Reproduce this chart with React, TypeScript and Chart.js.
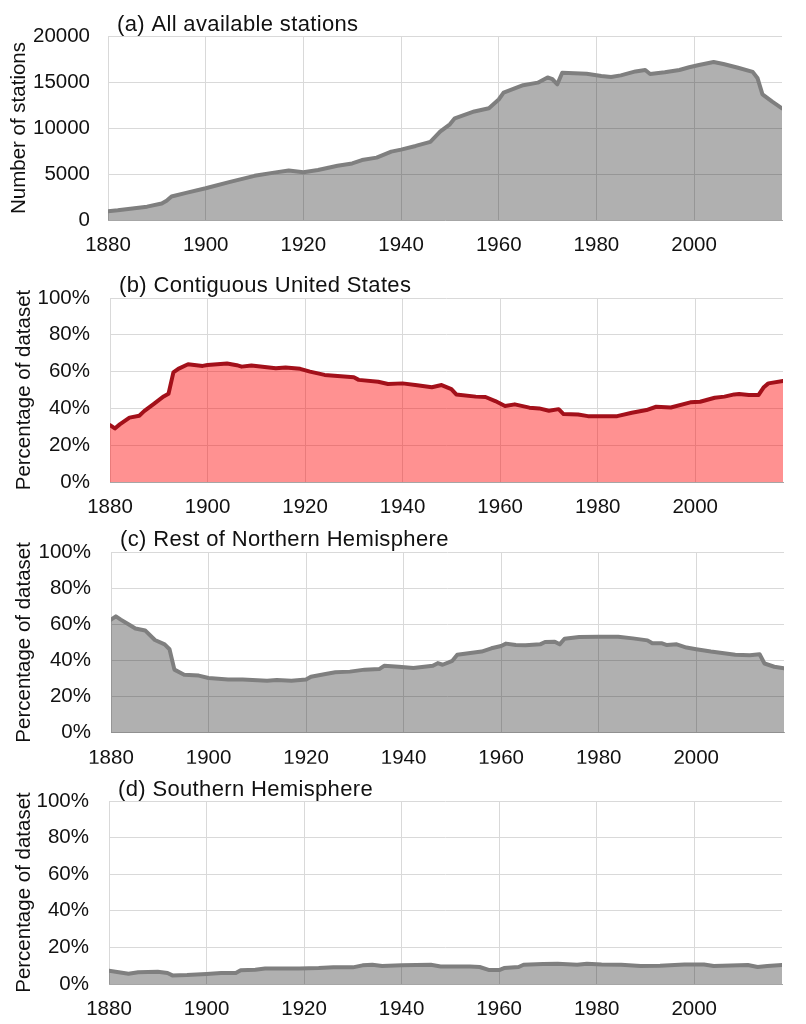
import React, { useEffect, useRef } from "react";
import { Chart, registerables } from "chart.js";

Chart.register(...registerables);

const FONT = '"Liberation Sans", Arial, sans-serif';

// ---- axis ticks ----
const X_TICKS = [1880, 1900, 1920, 1940, 1960, 1980, 2000];
const X_MIN = 1880;
const X_MAX = 2018;
const COUNT_TICKS = [0, 5000, 10000, 15000, 20000];
const PCT_TICKS = [0, 20, 40, 60, 80, 100];

// ---- (a) All available stations ----
const A_YEARS = [
  1880, 1882, 1885, 1888, 1891, 1892, 1893, 1896, 1900, 1905, 1910, 1914, 1917, 1920, 1923, 1927,
  1930, 1932, 1935, 1938, 1940, 1943, 1946, 1948, 1950, 1951, 1955, 1958, 1960, 1961, 1965, 1968,
  1970, 1971, 1972, 1973, 1978, 1981, 1983, 1985, 1988, 1990, 1991, 1994, 1997, 1999, 2001, 2004,
  2006, 2009, 2012, 2013, 2014, 2016, 2018,
];
const A_STATIONS = [
  950, 1050, 1250, 1450, 1800, 2100, 2550, 2950, 3450, 4150, 4800, 5150, 5380, 5200, 5430, 5900,
  6150, 6520, 6780, 7430, 7650, 8050, 8500, 9600, 10400, 11050, 11800, 12150, 13100, 13850, 14650, 14930,
  15500, 15300, 14750, 16000, 15900, 15650, 15550, 15720, 16150, 16300, 15870, 16050, 16300, 16600, 16850, 17170,
  16950, 16550, 16100, 15400, 13660, 12860, 12140,
];

// ---- (b) Contiguous United States (% of dataset) ----
const B_YEARS = [
  1880, 1881, 1882, 1884, 1886, 1887, 1889, 1891, 1892, 1893, 1894, 1896, 1899, 1900, 1904, 1906,
  1907, 1909, 1914, 1916, 1919, 1921, 1924, 1928, 1930, 1931, 1935, 1937, 1940, 1943, 1946, 1948,
  1950, 1951, 1955, 1957, 1959, 1961, 1963, 1966, 1968, 1970, 1972, 1973, 1976, 1978, 1984, 1987,
  1990, 1992, 1995, 1999, 2001, 2004, 2006, 2008, 2009, 2011, 2013, 2014, 2015, 2018,
];
const B_PCT = [
  30.9, 29.1, 31.3, 35.0, 36.0, 38.5, 42.5, 46.5, 48.0, 59.6, 61.5, 64.0, 63.1, 63.6, 64.4, 63.5,
  62.7, 63.3, 61.8, 62.2, 61.5, 60.0, 58.2, 57.3, 56.9, 55.5, 54.5, 53.3, 53.6, 52.6, 51.5, 52.7,
  50.5, 47.6, 46.4, 46.2, 44.0, 41.3, 42.2, 40.4, 40.0, 38.7, 39.6, 36.9, 36.7, 35.8, 35.8, 37.6,
  39.1, 40.9, 40.5, 43.3, 43.6, 45.8, 46.4, 47.6, 47.8, 47.3, 47.3, 51.3, 53.6, 54.9,
];

// ---- (c) Rest of Northern Hemisphere (% of dataset) ----
const C_YEARS = [
  1880, 1881, 1882, 1884, 1885, 1887, 1889, 1891, 1892, 1893, 1895, 1898, 1900, 1904, 1907, 1912,
  1914, 1917, 1920, 1921, 1924, 1926, 1929, 1932, 1935, 1936, 1939, 1942, 1946, 1947, 1948, 1950,
  1951, 1956, 1958, 1960, 1961, 1963, 1965, 1968, 1969, 1971, 1972, 1973, 1976, 1980, 1984, 1987,
  1990, 1991, 1993, 1994, 1996, 1998, 2000, 2003, 2008, 2011, 2013, 2014, 2016, 2018,
];
const C_PCT = [
  62.6, 64.4, 62.6, 59.3, 57.7, 56.6, 51.3, 48.9, 46.2, 34.9, 32.1, 31.6, 30.3, 29.4, 29.4, 28.8,
  29.2, 28.8, 29.4, 31.0, 32.5, 33.4, 33.8, 34.9, 35.2, 37.0, 36.5, 35.8, 37.0, 38.5, 37.6, 39.8,
  43.1, 44.9, 46.7, 48.0, 49.3, 48.5, 48.4, 48.9, 50.2, 50.4, 48.9, 52.0, 52.9, 53.1, 53.1, 52.2,
  51.1, 49.5, 49.5, 48.5, 48.9, 47.1, 46.2, 44.9, 43.1, 42.9, 43.4, 38.3, 36.5, 35.6,
];

// ---- (d) Southern Hemisphere (% of dataset) ----
const D_YEARS = [
  1880, 1882, 1884, 1886, 1888, 1890, 1892, 1893, 1896, 1900, 1903, 1906, 1907, 1910, 1912, 1919,
  1923, 1926, 1930, 1932, 1934, 1936, 1940, 1946, 1948, 1954, 1956, 1958, 1960, 1961, 1964, 1965,
  1969, 1972, 1976, 1978, 1981, 1985, 1989, 1993, 1998, 2002, 2004, 2011, 2013, 2015, 2018,
];
const D_PCT = [
  7.3, 6.4, 5.6, 6.4, 6.5, 6.7, 6.0, 4.7, 4.9, 5.5, 6.0, 6.0, 7.5, 7.8, 8.5, 8.5,
  8.7, 9.1, 9.1, 10.2, 10.5, 9.8, 10.2, 10.5, 9.6, 9.5, 9.3, 7.6, 7.6, 8.7, 9.3, 10.5,
  10.9, 11.1, 10.5, 11.1, 10.7, 10.5, 9.8, 10.0, 10.7, 10.7, 9.8, 10.4, 9.3, 9.8, 10.4,
];

type PanelProps = {
  title: string;
  years: number[];
  values: number[];
  yTicks: number[];
  percent: boolean;
  axisTitle: string;
  fill: string;
  line: string;
  top: number;
  height: number;
  areaTop: number;
  areaBottom: number;
  areaLeft: number;
  areaRight: number;
  titleBaseline: number;
  axisTitlePad: number;
};

function Panel(p: PanelProps) {
  const ref = useRef<HTMLCanvasElement | null>(null);
  useEffect(() => {
    if (!ref.current) return;
    const titlePlugin = {
      id: "panelTitle",
      afterDraw(chart: any) {
        const ctx = chart.ctx as CanvasRenderingContext2D;
        ctx.save();
        ctx.font = `22px ${FONT}`;
        (ctx as any).letterSpacing = "0.35px";
        ctx.fillStyle = "#111";
        ctx.textAlign = "left";
        ctx.textBaseline = "alphabetic";
        ctx.fillText(p.title, chart.chartArea.left + 9, p.titleBaseline);
        ctx.restore();
      },
    };
    const chart = new Chart(ref.current, {
      type: "line",
      data: {
        datasets: [
          {
            data: p.years.map((x, i) => ({ x, y: p.values[i] })),
            borderColor: p.line,
            backgroundColor: p.fill,
            borderWidth: 4,
            fill: "origin",
            tension: 0,
            pointRadius: 0,
            borderJoinStyle: "round",
            borderCapStyle: "round",
          },
        ],
      },
      options: {
        responsive: false,
        animation: false,
        events: [],
        layout: {
          padding: { top: p.areaTop, left: 0, right: 806 - p.areaRight, bottom: 0 },
        },
        plugins: {
          legend: { display: false },
          tooltip: { enabled: false },
          title: { display: false },
        },
        scales: {
          x: {
            type: "linear",
            min: X_MIN,
            max: X_MAX,
            afterBuildTicks: (s: any) => {
              s.ticks = X_TICKS.map((v) => ({ value: v }));
            },
            afterFit: (s: any) => {
              s.height = p.height - p.areaBottom;
            },
            grid: { color: "#d9d9d9", lineWidth: 1, drawTicks: false },
            border: { display: true, color: "#a6a6a6", width: 1 },
            ticks: {
              padding: 13,
              color: "#111",
              font: { family: FONT, size: 20.5 },
              maxRotation: 0,
              autoSkip: false,
              callback: (v: any) => String(v),
            },
          },
          y: {
            type: "linear",
            min: p.yTicks[0],
            max: p.yTicks[p.yTicks.length - 1],
            afterBuildTicks: (s: any) => {
              s.ticks = p.yTicks.map((v) => ({ value: v }));
            },
            afterFit: (s: any) => {
              s.width = p.areaLeft;
            },
            grid: { color: "#d9d9d9", lineWidth: 1, drawTicks: false },
            border: { display: false },
            ticks: {
              padding: p.percent ? 20 : 18,
              color: "#111",
              font: { family: FONT, size: 20.5 },
              callback: (v: any) => (p.percent ? `${v}%` : String(v)),
            },
            title: {
              display: true,
              text: p.axisTitle,
              color: "#111",
              font: { family: FONT, size: 20.5, lineHeight: 1.2 },
              padding: { top: p.axisTitlePad, bottom: 0 },
            },
          },
        },
      },
      plugins: [titlePlugin],
    } as any);
    return () => chart.destroy();
  }, []);
  return (
    <canvas
      ref={ref}
      width={806}
      height={p.height}
      style={{ position: "absolute", left: 0, top: p.top, width: 806, height: p.height }}
    />
  );
}

const GRAY_FILL = "rgba(0,0,0,0.31)";
const GRAY_LINE = "#7f7f7f";
const RED_FILL = "rgba(255,0,0,0.43)";
const RED_LINE = "#a3101a";

export default function App() {
  return (
    <div style={{ position: "absolute", left: 0, top: 0, width: 806, height: 1024, background: "#fff" }}>
      <Panel
        title="(a) All available stations"
        years={A_YEARS}
        values={A_STATIONS}
        yTicks={COUNT_TICKS}
        percent={false}
        axisTitle="Number of stations"
        fill={GRAY_FILL}
        line={GRAY_LINE}
        top={0}
        height={262}
        areaTop={36}
        areaBottom={220}
        areaLeft={108}
        areaRight={782}
        titleBaseline={31}
        axisTitlePad={7}
      />
      <Panel
        title="(b) Contiguous United States"
        years={B_YEARS}
        values={B_PCT}
        yTicks={PCT_TICKS}
        percent={true}
        axisTitle="Percentage of dataset"
        fill={RED_FILL}
        line={RED_LINE}
        top={262}
        height={254}
        areaTop={36}
        areaBottom={220}
        areaLeft={110}
        areaRight={783}
        titleBaseline={30}
        axisTitlePad={12}
      />
      <Panel
        title="(c) Rest of Northern Hemisphere"
        years={C_YEARS}
        values={C_PCT}
        yTicks={PCT_TICKS}
        percent={true}
        axisTitle="Percentage of dataset"
        fill={GRAY_FILL}
        line={GRAY_LINE}
        top={516}
        height={249}
        areaTop={36}
        areaBottom={218}
        areaLeft={111}
        areaRight={784}
        titleBaseline={30}
        axisTitlePad={12}
      />
      <Panel
        title="(d) Southern Hemisphere"
        years={D_YEARS}
        values={D_PCT}
        yTicks={PCT_TICKS}
        percent={true}
        axisTitle="Percentage of dataset"
        fill={GRAY_FILL}
        line={GRAY_LINE}
        top={765}
        height={259}
        areaTop={36}
        areaBottom={219}
        areaLeft={109}
        areaRight={782}
        titleBaseline={31}
        axisTitlePad={12}
      />
    </div>
  );
}
